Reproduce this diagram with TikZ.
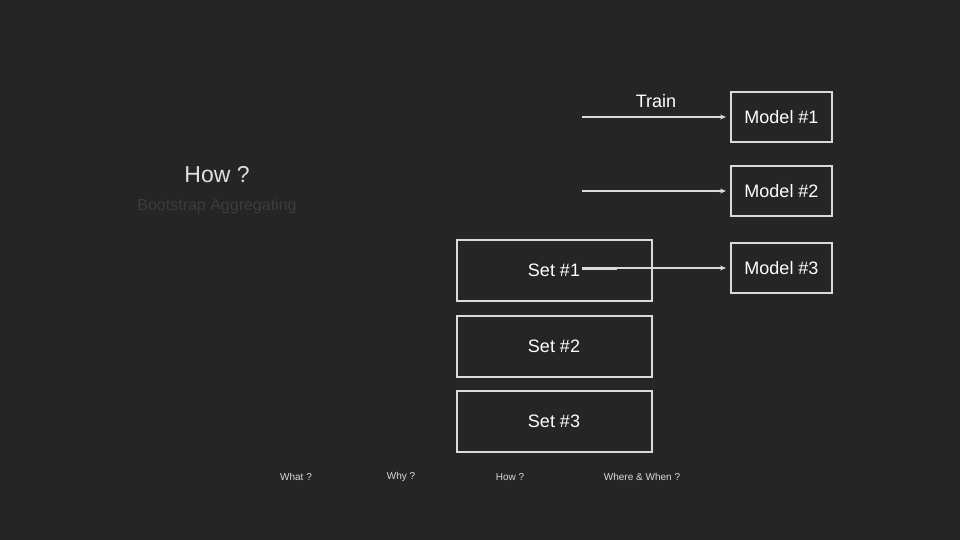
\documentclass[tikz,border=0pt]{standalone}
\usepackage{fontspec}
\setmainfont{Liberation Sans}
\usetikzlibrary{arrows.meta,positioning}

\definecolor{slidebg}{HTML}{252525}
\definecolor{boxline}{HTML}{DADADA}
\definecolor{subtext}{HTML}{3C3C3C}

\tikzset{
	modelbox/.style={draw=boxline,line width=2pt,minimum width=101pt,minimum height=50pt,inner sep=0pt,text=white,font=\fontsize{18}{20}\selectfont},
	setbox/.style={draw=boxline,line width=2pt,minimum width=195pt,minimum height=61pt,inner sep=0pt},
	settext/.style={text=white,font=\fontsize{18}{20}\selectfont,inner sep=1.5pt},
	flow/.style={draw=boxline,line width=1.7pt,-{Stealth[length=6pt,width=5pt]},shorten >=4pt},
	navtext/.style={text=boxline,font=\fontsize{10}{12}\selectfont}
}

\begin{document}
\begin{tikzpicture}[x=1pt,y=-1pt]
						\fill[slidebg] (0,0) rectangle (960,540);
						\useasboundingbox (0,0) rectangle (960,540);
						\node[modelbox] (model1) at (781.5,117) {Model \#1};
						\node[modelbox] (model2) at (781.5,191) {Model \#2};
						\node[modelbox] (model3) at (781.5,268) {Model \#3};
						\node[setbox] (set1) at (554.5,270.5) {};
						\node[setbox] (set2) at (554.5,346) {};
						\node[setbox] (set3) at (554.5,421.5) {};
						\node[settext] (set1txt) at (554,270) {Set \#1};
						\node[settext] (set2txt) at (554,346) {Set \#2};
						\node[settext] (set3txt) at (554,421) {Set \#3};
						\coordinate (start1) at (582,117);
						\coordinate (start2) at (582,191);
						\coordinate (thick1) at (617,268);
						\draw[flow] (start1) -- node[above=7pt,settext] (train) {Train} (model1);
						\draw[flow] (start2) -- (model2);
						\draw[flow] (set1txt.east |- model3) -- (model3);
						\draw[boxline,line width=3pt] (set1txt.east |- model3) -- (thick1);
						\node[text=boxline!85,font=\fontsize{23}{26}\selectfont] (how) at (217,175) {How ?};
						\node[text=subtext,font=\fontsize{16}{18}\selectfont] (bagging) at (217,206) {Bootstrap Aggregating};
						\node[navtext] (what) at (296,477) {What ?};
						\node[navtext] (why) at (401,477) {Why ?};
						\node[navtext] (hownav) at (510,477) {How ?};
						\node[navtext] (where) at (642,477) {Where \& When ?};
					\end{tikzpicture}
\end{document}
